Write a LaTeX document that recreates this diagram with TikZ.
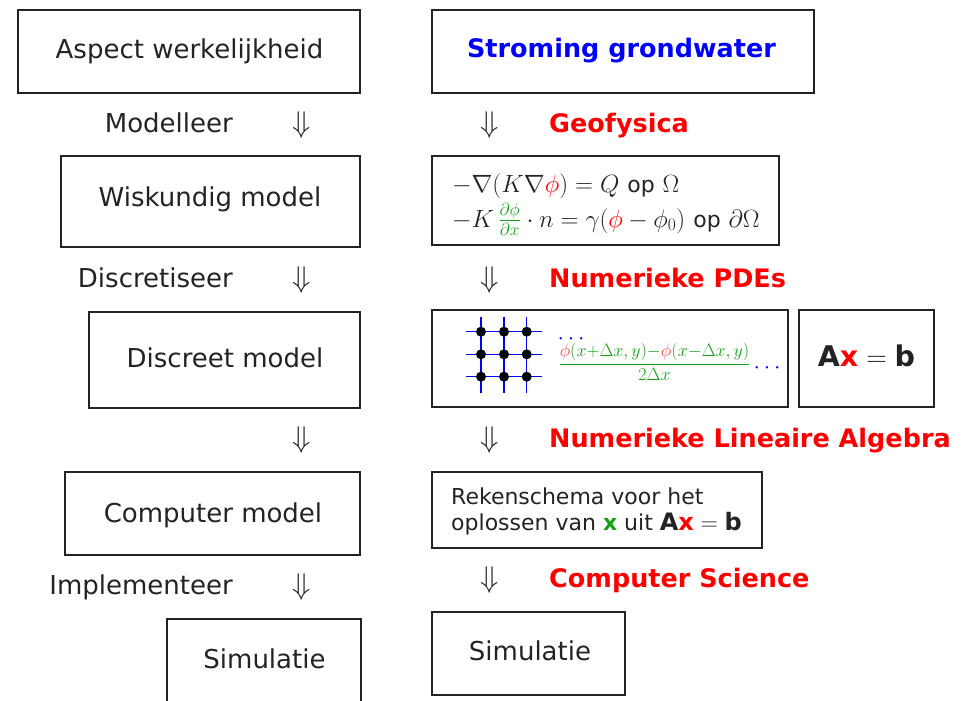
\RequirePackage{fix-cm}
\documentclass[tikz,border=0pt]{standalone}
\usepackage{amsmath}
\usepackage{fontspec}
\setmainfont{DejaVu Sans}
\definecolor{mygreen}{RGB}{20,160,20}
\definecolor{myblue}{RGB}{0,0,255}
\definecolor{ink}{RGB}{35,35,35}
\newcommand\fsz[1]{\fontsize{#1pt}{#1pt}\selectfont}
\begin{document}
\begin{tikzpicture}[x=1pt,y=-1pt,
  frame/.style={draw=ink, line width=1.3pt, inner sep=0pt},
  txt/.style={font=\fsz{26}, text=ink, anchor=base, inner sep=0pt},
  lbl/.style={font=\fsz{26}, text=ink, anchor=base east, inner sep=0pt},
  head/.style={font=\fsz{25.5}\bfseries, text=red, anchor=base west, inner sep=0pt},
  darr/.style={font=\fsz{30}, text=ink, anchor=base, inner sep=0pt},
  small/.style={font=\fsz{22}, text=ink, anchor=base west, inner sep=0pt},
  eqn/.style={font=\fsz{25}, text=ink, anchor=base west, inner sep=0pt},
  gridline/.style={draw=myblue, line width=1.3pt},
  dot/.style={circle, fill=black, inner sep=0pt, minimum size=10pt},
]
\useasboundingbox (0,0) rectangle (977,701);

% boxes
\node[frame, minimum width=342, minimum height=83] (aspectbox) at (189,51.5) {};
\node[frame, minimum width=299, minimum height=91] (wiskbox) at (210.5,201.5) {};
\node[frame, minimum width=271, minimum height=96] (discbox) at (224.5,360) {};
\node[frame, minimum width=295, minimum height=83] (compbox) at (212.5,513.5) {};
\node[frame, minimum width=194, minimum height=86] (simlbox) at (264,662) {};
\node[frame, minimum width=382, minimum height=83] (stromingbox) at (623,51.5) {};
\node[frame, minimum width=347, minimum height=89] (eqbox) at (605.5,200.5) {};
\node[frame, minimum width=356, minimum height=97] (gridbox) at (610,358.5) {};
\node[frame, minimum width=135, minimum height=97] (axbbox) at (866.5,358.5) {};
\node[frame, minimum width=330, minimum height=76] (rekbox) at (597,510) {};
\node[frame, minimum width=193, minimum height=83] (simrbox) at (528.5,653.5) {};

% box texts
\node[txt] (aspect) at (189.5,59) {Aspect werkelijkheid};
\node[txt, font=\fsz{25.5}\bfseries, text=myblue] (stroming) at (621.5,58) {Stroming grondwater};
\node[txt] (wisk) at (210,206) {Wiskundig model};
\node[txt] (disc) at (225,367) {Discreet model};
\node[txt] (comp) at (213,522) {Computer model};
\node[txt] (siml) at (264.5,668) {Simulatie};
\node[txt] (simr) at (530,660) {Simulatie};

% left labels
\node[lbl] (modelleer) at (233,132) {Modelleer};
\node[lbl] (discretiseer) at (233,287) {Discretiseer};
\node[lbl] (implementeer) at (233,594) {Implementeer};

% double arrows
\node[darr] (la1) at (302,132) {$\Downarrow$};
\node[darr] (la2) at (302,287) {$\Downarrow$};
\node[darr] (la3) at (302,447) {$\Downarrow$};
\node[darr] (la4) at (302,594) {$\Downarrow$};
\node[darr] (ra1) at (490,132) {$\Downarrow$};
\node[darr] (ra2) at (490,287) {$\Downarrow$};
\node[darr] (ra3) at (490,447) {$\Downarrow$};
\node[darr] (ra4) at (490,587) {$\Downarrow$};

% headings
\node[head] (geo) at (549,132) {Geofysica};
\node[head] (pdes) at (549,287) {Numerieke PDEs};
\node[head] (nla) at (549,447) {Numerieke Lineaire Algebra};
\node[head] (cs) at (549,587) {Computer Science};

% equations
\node[eqn] (eq1) at (452,192) {$-\nabla(K\nabla\textcolor{red}{\phi}) = Q$\ {\fsz{22}op}\ $\Omega$};
\node[eqn] (eq2) at (452,227) {$-K\,\textcolor{mygreen}{\frac{\partial\phi}{\partial x}}\cdot n = \gamma(\textcolor{red}{\phi}-\phi_0)$\ {\fsz{22}op}\ $\partial\Omega$};

% grid
\foreach \yy in {331.7,354.3,376.7} \draw[gridline] (466,\yy) -- (541.7,\yy);
\foreach \xx in {481,504,526.7} \draw[gridline] (\xx,316.7) -- (\xx,392.7);
\foreach \xx in {481,504,526.7} \foreach \yy in {331.7,354.3,376.7}
  \node[dot] at (\xx,\yy) {};

\node[anchor=base, inner sep=0pt, font=\fsz{23}, text=myblue] (dotsa) at (573,344) {$\cdots$};
\node[anchor=base, inner sep=0pt, font=\fsz{18}, text=mygreen] (frac) at (654.5,368.5)
  {$\dfrac{\textcolor{red!75}{\phi}(x{+}\Delta x,y){-}\textcolor{red!75}{\phi}(x{-}\Delta x,y)}{2\Delta x}$};
\node[anchor=base, inner sep=0pt, font=\fsz{23}, text=myblue] (dotsb) at (769,373) {$\cdots$};

\node[txt, font=\fsz{28.5}] (axb) at (866.5,366) {$\textbf{A}\textcolor{red}{\textbf{x}}=\textbf{b}$};

% rekenschema
\node[small] (rek1) at (451,504) {Rekenschema voor het};
\node[small] (rek2) at (451,530) {oplossen van \textcolor{mygreen}{\textbf{x}} uit {\fsz{24}$\textbf{A}\textcolor{red}{\textbf{x}}=\textbf{b}$}};
\end{tikzpicture}
\end{document}
